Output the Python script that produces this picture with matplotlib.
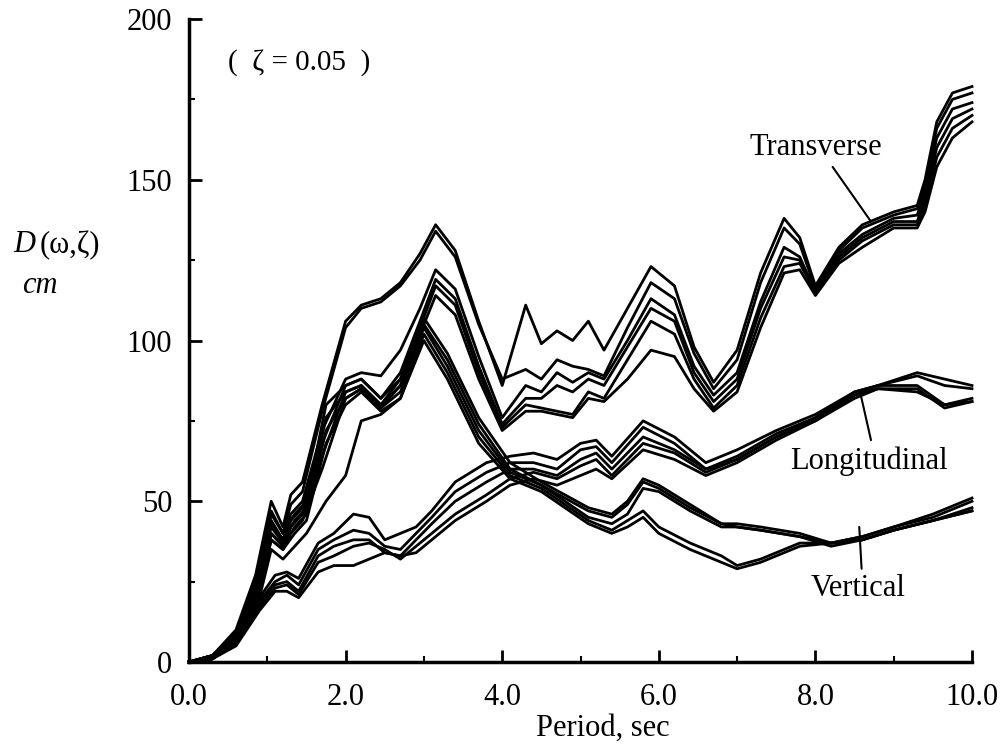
import matplotlib.pyplot as plt
import numpy as np

# response spectra (zeta = 0.05)
# transverse component, 6 records
tx = [0, 0.3, 0.6, 0.85, 1.05, 1.2, 1.3, 1.45, 1.7, 2.0, 2.2, 2.45, 2.7, 2.95, 3.15,
      3.4, 3.7, 4.0, 4.3, 4.5, 4.7, 4.9, 5.1, 5.3, 5.6, 5.9, 6.2, 6.45, 6.7, 7.0,
      7.3, 7.6, 7.8, 8.0, 8.3, 8.6, 9.0, 9.3, 9.4, 9.55, 9.75, 10.0]
trans = [
    [0, 2, 10, 27, 50, 42, 52, 56, 80, 106, 111, 113, 118, 127, 136, 128, 106, 86, 111, 99, 103,
     100, 106, 97, 110, 123, 117, 98, 87, 97, 121, 138, 132, 117, 129, 136, 140, 142, 150, 168, 177, 179],
    [0, 2, 9, 25, 47, 40, 49, 53, 78, 104, 110, 112, 117, 125, 134, 126, 105, 88, 91, 88, 94,
     92, 91, 89, 104, 118, 113, 96, 85, 94, 118, 135, 130, 116, 128, 135, 139, 141, 148, 166, 175, 177],
    [0, 2, 8, 23, 44, 38, 46, 50, 72, 88, 90, 89, 97, 110, 122, 116, 95, 76, 86, 84, 90,
     87, 90, 88, 100, 113, 108, 92, 83, 90, 112, 129, 126, 115, 127, 133, 138, 139, 146, 163, 172, 174],
    [0, 1, 8, 22, 42, 37, 44, 48, 68, 86, 88, 82, 90, 106, 119, 113, 92, 74, 82, 82, 86,
     84, 88, 86, 98, 110, 106, 90, 81, 88, 110, 126, 125, 116, 126, 132, 137, 137, 144, 160, 169, 172],
    [0, 1, 7, 21, 40, 36, 42, 46, 64, 84, 86, 80, 88, 104, 117, 111, 90, 73, 80, 79, 78,
     77, 84, 82, 94, 106, 102, 88, 79, 86, 107, 123, 124, 115, 125, 131, 136, 136, 142, 157, 166, 170],
    [0, 1, 7, 20, 38, 35, 40, 44, 60, 82, 85, 79, 86, 102, 114, 108, 88, 72, 78, 78, 77,
     76, 82, 81, 88, 97, 95, 85, 78, 84, 104, 121, 122, 114, 124, 129, 135, 135, 140, 154, 163, 168],
]

# longitudinal component, 5 records
lx = [0, 0.3, 0.6, 0.9, 1.1, 1.25, 1.4, 1.65, 1.85, 2.1, 2.3, 2.5, 2.7, 2.9, 3.1, 3.4, 3.8,
      4.1, 4.4, 4.7, 5.0, 5.2, 5.4, 5.8, 6.2, 6.6, 7.0, 7.5, 8.0, 8.5, 8.8, 9.3, 9.65, 10.0]
longi = [
    [0, 2, 8, 20, 27, 28, 26, 37, 40, 46, 45, 38, 40, 42, 47, 56, 62, 64, 65, 63, 68, 69, 64,
     75, 70, 62, 66, 72, 77, 84, 86, 90, 88, 86],
    [0, 2, 7, 19, 25, 27, 24, 35, 38, 41, 40, 36, 35, 40, 45, 53, 59, 62, 62, 60, 66, 67, 62,
     73, 68, 60, 64, 71, 76, 83, 86, 89, 86, 85],
    [0, 1, 6, 18, 24, 25, 22, 33, 36, 38, 38, 34, 33, 38, 43, 50, 56, 60, 60, 58, 63, 65, 60,
     70, 66, 60, 63, 70, 76, 84, 86, 86, 80, 82],
    [0, 1, 6, 17, 23, 24, 21, 31, 33, 36, 37, 35, 32, 36, 40, 46, 52, 57, 59, 57, 61, 63, 58,
     68, 65, 59, 63, 70, 75, 83, 85, 85, 79, 81],
    [0, 1, 5, 16, 22, 22, 20, 28, 30, 30, 32, 34, 33, 34, 38, 44, 50, 55, 57, 55, 58, 60, 57,
     66, 63, 58, 62, 69, 75, 82, 85, 84, 80, 81],
]

# vertical component, 5 records
vx = [0, 0.3, 0.6, 0.9, 1.05, 1.2, 1.35, 1.5, 1.75, 2.0, 2.2, 2.45, 2.7, 3.0, 3.3, 3.7, 4.1,
      4.5, 4.8, 5.1, 5.4, 5.6, 5.8, 6.0, 6.4, 6.8, 7.0, 7.3, 7.8, 8.2, 8.6, 9.0, 9.5, 10.0]
vert = [
    [0, 2, 9, 24, 46, 40, 46, 50, 80, 86, 88, 82, 88, 107, 96, 76, 62, 56, 52, 48, 46, 50, 57,
     55, 49, 43, 43, 42, 40, 37, 39, 42, 46, 51],
    [0, 2, 8, 23, 43, 38, 44, 48, 76, 84, 86, 80, 86, 105, 94, 74, 60, 55, 51, 47, 45, 49, 56,
     54, 48, 43, 42, 41, 39, 37, 39, 42, 45, 50],
    [0, 1, 8, 22, 40, 36, 42, 46, 72, 82, 85, 79, 84, 104, 92, 72, 59, 55, 50, 45, 43, 46, 54,
     53, 47, 42, 42, 41, 39, 36, 38, 41, 44, 48],
    [0, 1, 7, 21, 38, 35, 40, 44, 68, 80, 84, 78, 82, 102, 90, 70, 58, 54, 49, 44, 41, 44, 47,
     42, 37, 33, 30, 32, 37, 37, 38, 41, 44, 47],
    [0, 1, 6, 20, 35, 32, 36, 40, 50, 58, 75, 77, 82, 100, 88, 68, 57, 53, 48, 43, 40, 42, 45,
     40, 35, 31, 29, 31, 36, 37, 38, 41, 44, 47],
]

xticks = [0, 2, 4, 6, 8, 10]
xtick_labels = ['0.0', '2.0', '4.0', '6.0', '8.0', '10.0']
yticks = [0, 50, 100, 150, 200]

plt.rcParams['font.family'] = ['Liberation Serif', 'DejaVu Serif']

fig = plt.figure(figsize=(10.07, 7.48), dpi=100)
W, H = 1007, 748
ax = fig.add_axes([189 / W, (H - 662) / H, (972 - 189) / W, (662 - 19) / H])

for y in trans:
    ax.plot(tx, y, color='black', lw=2.0, solid_joinstyle='round', clip_on=False)
for y in longi:
    ax.plot(lx, y, color='black', lw=2.0, solid_joinstyle='round', clip_on=False)
for y in vert:
    ax.plot(vx, y, color='black', lw=2.0, solid_joinstyle='round', clip_on=False)

ax.set_xlim(0, 10)
ax.set_ylim(0, 200)
for s in ['top', 'right']:
    ax.spines[s].set_visible(False)
for s in ['left', 'bottom']:
    ax.spines[s].set_linewidth(2.5)

ax.set_xticks(xticks)
ax.set_xticklabels(xtick_labels)
ax.set_yticks(yticks)
ax.set_xticks([1, 3, 5, 7, 9], minor=True)
ax.set_yticks([25, 75, 125, 175], minor=True)
ax.tick_params(which='major', direction='in', length=9, width=2, labelsize=22)
ax.tick_params(which='minor', direction='in', length=4, width=1.5)
ax.tick_params(axis='y', which='major', pad=12)
ax.tick_params(axis='x', which='major', pad=15)

# axis titles
fig.text(13 / W, 1 - 245 / H, 'D', fontsize=22, style='italic', va='center', ha='left')
fig.text(40 / W, 1 - 245 / H, '(ω,ζ)', fontsize=22, va='center', ha='left')
fig.text(22 / W, 1 - 285 / H, 'cm', fontsize=22, style='italic', va='center', ha='left')
fig.text(603 / W, 1 - 728 / H, 'Period, sec', fontsize=22, va='center', ha='center')
fig.text(228 / W, 1 - 63 / H, '(  ζ = 0.05  )', fontsize=21, va='center', ha='left')

# component labels with leader lines
lead = dict(arrowstyle='-', lw=1.5, color='black', shrinkA=0, shrinkB=0)
ax.text(8.01, 160, 'Transverse', fontsize=22, ha='center', va='center')
ax.annotate('', xy=(8.71, 137), xytext=(8.22, 154), arrowprops=lead)
ax.text(8.68, 62.5, 'Longitudinal', fontsize=22, ha='center', va='center')
ax.annotate('', xy=(8.58, 83), xytext=(8.71, 69), arrowprops=lead)
ax.text(8.54, 23, 'Vertical', fontsize=22, ha='center', va='center')
ax.annotate('', xy=(8.56, 42), xytext=(8.59, 29), arrowprops=lead)

fig.savefig('out.png', dpi=100)
